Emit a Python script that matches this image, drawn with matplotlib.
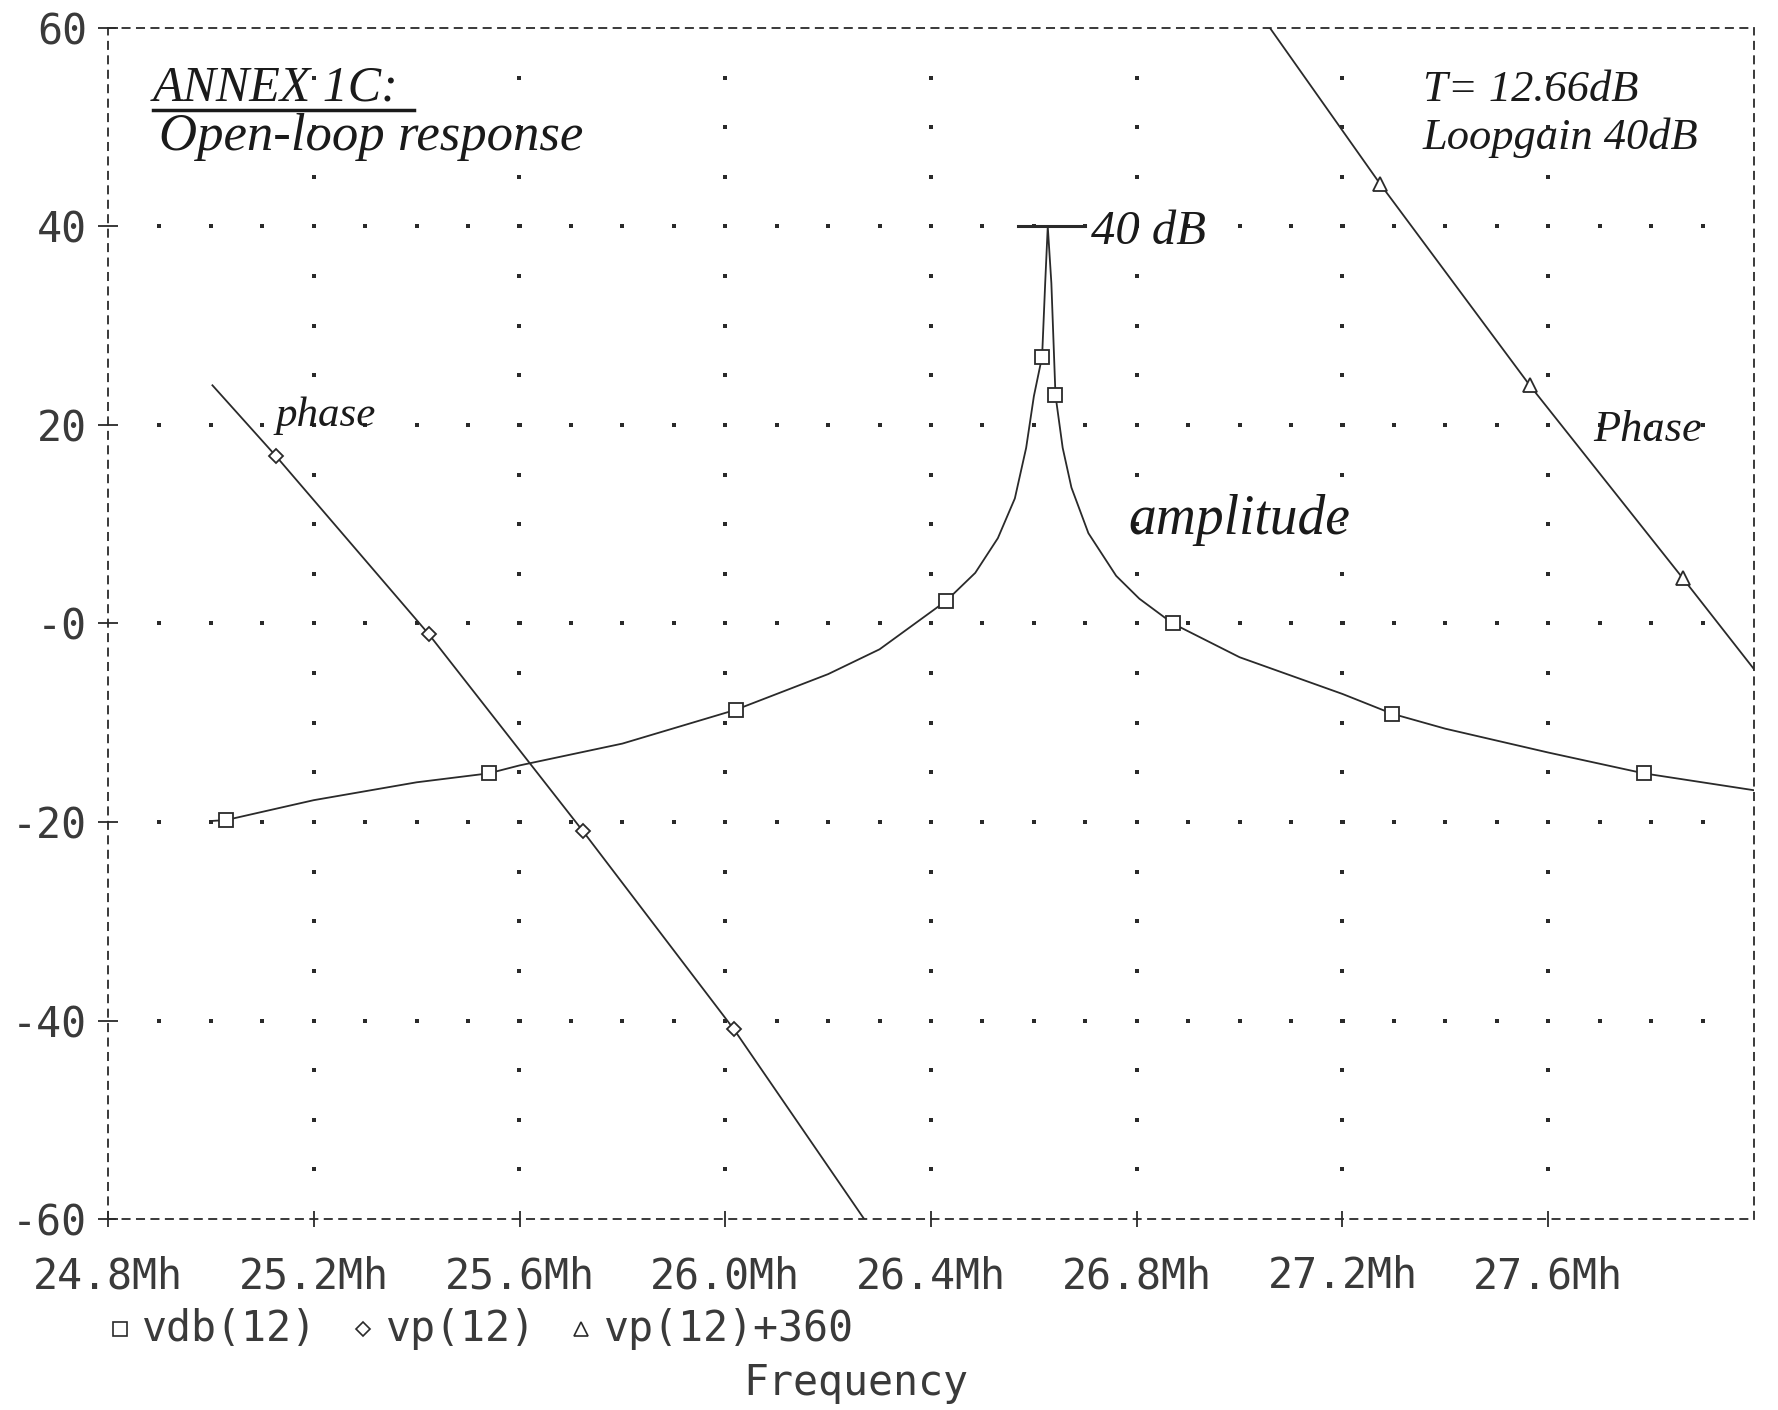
import matplotlib
matplotlib.use("Agg")
import matplotlib.pyplot as plt
from matplotlib.lines import Line2D
import numpy as np

# ---------------- data ----------------
amp_freq = [25.00, 25.03, 25.20, 25.40, 25.54, 25.60, 25.80, 26.02, 26.20, 26.30,
            26.43, 26.486, 26.53, 26.563, 26.585, 26.60, 26.616, 26.622, 26.627,
            26.634, 26.642, 26.656, 26.673, 26.706, 26.76, 26.805, 26.87, 27.00,
            27.20, 27.297, 27.40, 27.60, 27.786, 28.00]
amp_db = [-19.9, -19.8, -17.8, -16.0, -15.1, -14.3, -12.1, -8.7, -5.1, -2.6,
          2.3, 5.1, 8.6, 12.6, 17.7, 22.9, 26.9, 34.3, 40.0,
          34.3, 23.0, 17.7, 13.7, 9.1, 4.8, 2.5, 0.0, -3.4,
          -7.1, -9.1, -10.6, -13.0, -15.1, -16.8]
amp_marker_idx = [1, 4, 7, 10, 16, 20, 26, 29, 32]

phase_freq = [25.003, 25.126, 25.424, 25.723, 26.017, 26.27]
phase_deg = [24.0, 16.9, -1.1, -20.9, -40.9, -60.0]
phase_marker_idx = [1, 2, 3, 4]

phase360_freq = [27.059, 27.273, 27.564, 27.861, 28.00]
phase360_deg = [60.0, 44.3, 24.0, 4.6, -4.6]
phase360_marker_idx = [1, 2, 3]

xtick_vals = [24.8, 25.2, 25.6, 26.0, 26.4, 26.8, 27.2, 27.6]
xtick_labels = ["24.8Mh", "25.2Mh", "25.6Mh", "26.0Mh", "26.4Mh", "26.8Mh", "27.2Mh", "27.6Mh"]
ytick_vals = [-60, -40, -20, 0, 20, 40, 60]
ytick_labels = ["-60", "-40", "-20", "-0", "20", "40", "60"]
legend_labels = ["vdb(12)", "vp(12)", "vp(12)+360"]

peak_bar = (26.57, 26.70, 40.0)

# ---------------- figure ----------------
W, H = 1778, 1410
fig = plt.figure(figsize=(W / 100, H / 100), dpi=100)
fig.patch.set_facecolor("white")
ax = fig.add_axes([108 / W, 1 - 1219 / H, (1754 - 108) / W, (1219 - 28) / H])
ax.set_xlim(24.8, 28.0)
ax.set_ylim(-60, 60)

ink = "#2a2a2a"
lab_col = "#3a3a3a"
mono = "DejaVu Sans Mono"

# dotted grid (Probe style)
gx_major = np.arange(25.2, 27.61, 0.4)
gy_minor = np.arange(-55, 56, 5)
gy_major = np.array([-40, -20, 0, 20, 40])
gx_minor = np.arange(24.9, 27.951, 0.1)
XX, YY = np.meshgrid(gx_major, gy_minor)
ax.scatter(XX.ravel(), YY.ravel(), s=5, color=ink, marker="s", linewidths=0, zorder=1)
XX2, YY2 = np.meshgrid(gx_minor, gy_major)
ax.scatter(XX2.ravel(), YY2.ravel(), s=5, color=ink, marker="s", linewidths=0, zorder=1)

# curves
lw = 1.3
ax.plot(amp_freq, amp_db, color=ink, lw=lw, marker="s", markersize=10.5,
        markerfacecolor="white", markeredgecolor=ink, markeredgewidth=1.3,
        markevery=amp_marker_idx, zorder=3)
ax.plot(phase_freq, phase_deg, color=ink, lw=lw, marker="D", markersize=7.5,
        markerfacecolor="white", markeredgecolor=ink, markeredgewidth=1.3,
        markevery=phase_marker_idx, zorder=3)
ax.plot(phase360_freq, phase360_deg, color=ink, lw=lw, marker="^", markersize=10,
        markerfacecolor="white", markeredgecolor=ink, markeredgewidth=1.3,
        markevery=phase360_marker_idx, zorder=3)

# peak cursor bar
ax.plot([peak_bar[0], peak_bar[1]], [peak_bar[2], peak_bar[2]], color=ink, lw=2.2, zorder=3)

# frame
for sp in ax.spines.values():
    sp.set_linestyle((0, (4, 4)))
    sp.set_linewidth(1.3)
    sp.set_color(ink)

ax.set_xticks(xtick_vals)
ax.set_xticklabels(xtick_labels, fontfamily=mono, fontsize=30, color=lab_col)
ax.set_yticks(ytick_vals)
ax.set_yticklabels(ytick_labels, fontfamily=mono, fontsize=30, color=lab_col)
ax.tick_params(axis="x", direction="inout", length=12, width=1.3, color=ink, pad=20)
ax.tick_params(axis="y", direction="inout", length=14, width=1.3, color=ink, pad=8)

# legend row (below the axis labels)
ly = 1 - 1329 / H
leg_items = [(120, "s", 10), (363, "D", 7.5), (581, "^", 10)]
txt_x = [142, 386, 604]
for (mx, mk, ms), tx, lab in zip(leg_items, txt_x, legend_labels):
    fig.add_artist(Line2D([mx / W], [ly], marker=mk, markersize=ms, markerfacecolor="white",
                          markeredgecolor=ink, markeredgewidth=1.2, linestyle="none",
                          transform=fig.transFigure))
    fig.text(tx / W, ly, lab, fontfamily=mono, fontsize=30, color=lab_col,
             ha="left", va="center")
fig.text(856 / W, 1 - 1383 / H, "Frequency", fontfamily=mono, fontsize=30,
         color=lab_col, ha="center", va="center")

# handwritten annotations
hw = dict(fontfamily="Liberation Serif", fontstyle="italic", color="#1a1a1a")
fig.text(153 / W, 1 - 88 / H, "ANNEX 1C:", fontsize=36, ha="left", va="center", **hw)
fig.add_artist(Line2D([153 / W, 414 / W], [1 - 110 / H, 1 - 110 / H], color="#1a1a1a", lw=2.5,
                      transform=fig.transFigure))
fig.text(159 / W, 1 - 137 / H, "Open-loop response", fontsize=38, ha="left", va="center", **hw)
fig.text(1423 / W, 1 - 90 / H, "T= 12.66dB", fontsize=32, ha="left", va="center", **hw)
fig.text(1423 / W, 1 - 138 / H, "Loopgain 40dB", fontsize=32, ha="left", va="center", **hw)
fig.text(1091 / W, 1 - 232 / H, "40 dB", fontsize=35, ha="left", va="center", **hw)
fig.text(276 / W, 1 - 416 / H, "phase", fontsize=31, ha="left", va="center", **hw)
fig.text(1593 / W, 1 - 430 / H, "Phase", fontsize=32, ha="left", va="center", **hw)
fig.text(1128 / W, 1 - 520 / H, "amplitude", fontsize=40, ha="left", va="center", **hw)

fig.savefig("out.png", dpi=100, facecolor="white")
